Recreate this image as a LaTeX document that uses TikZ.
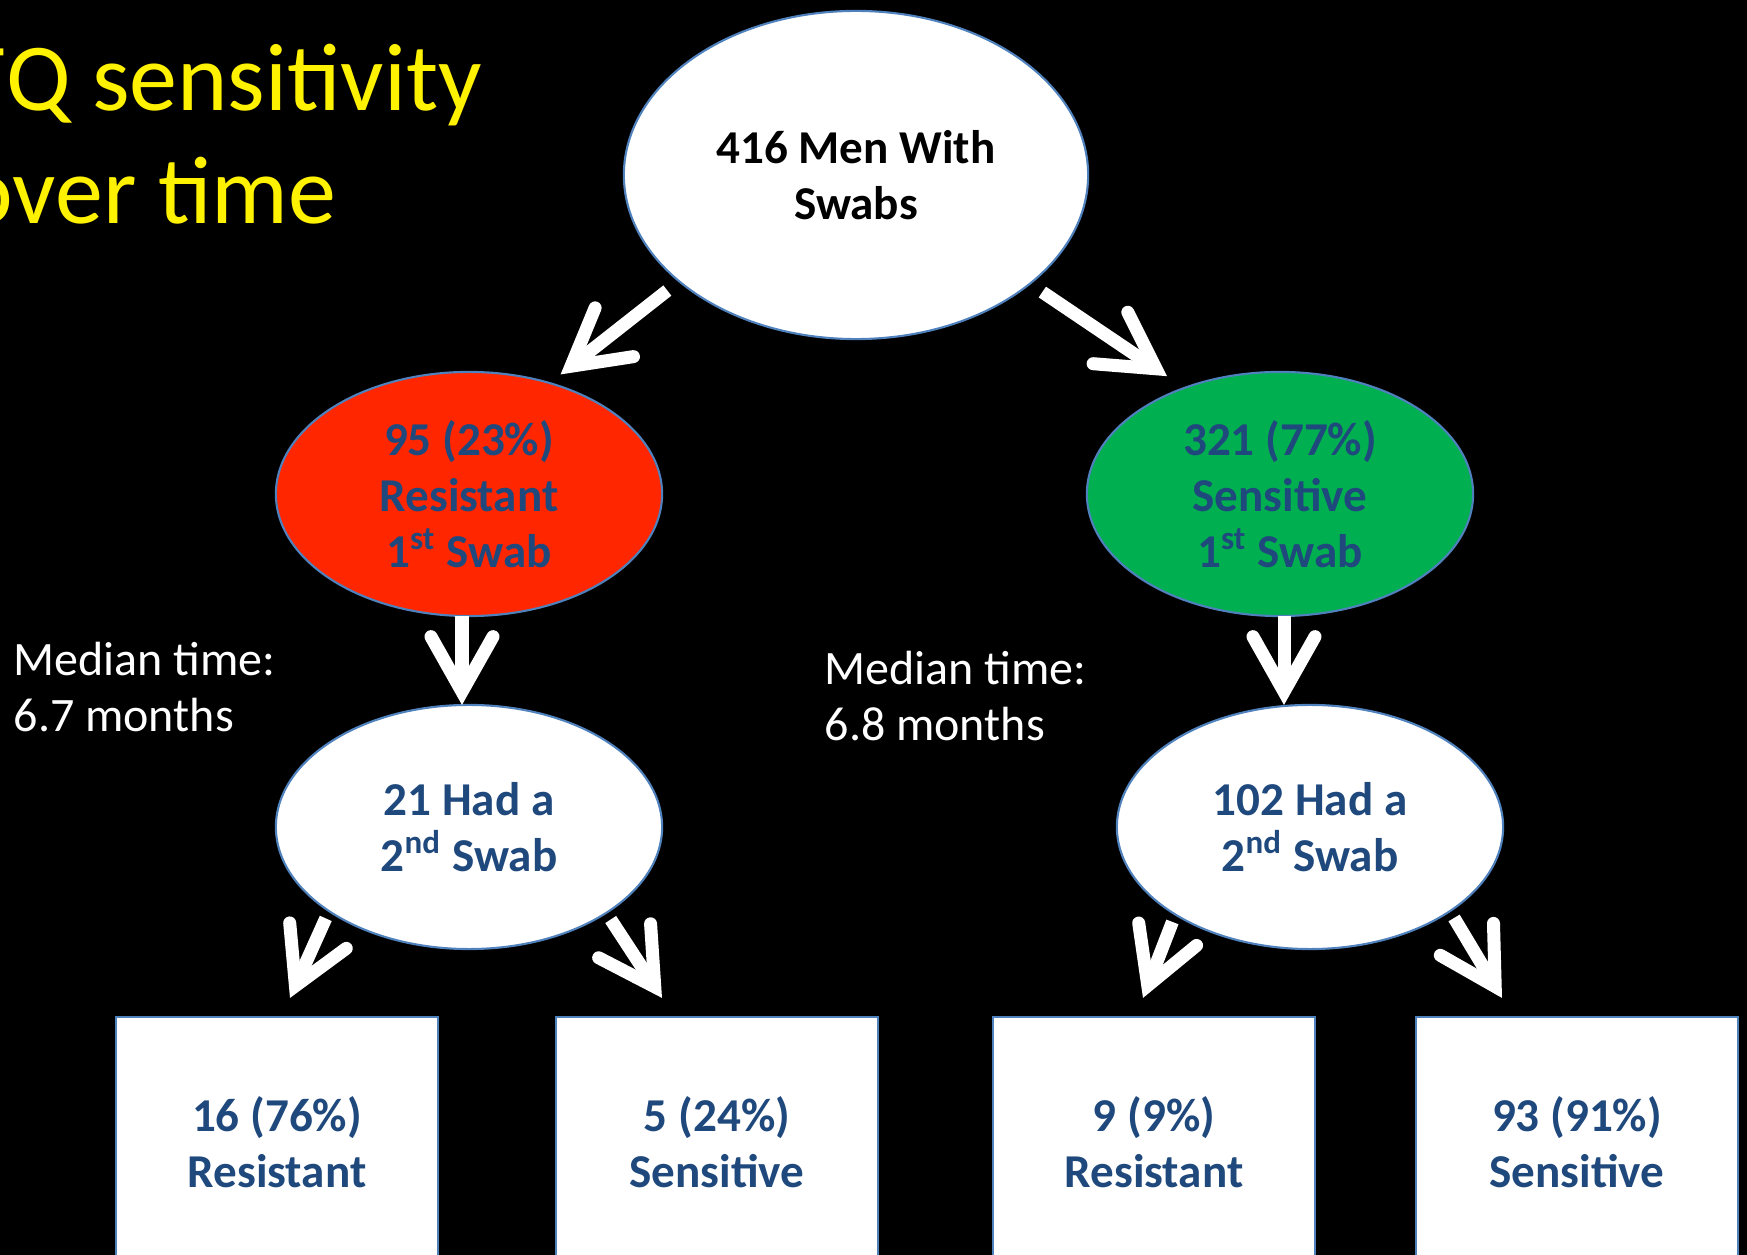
\documentclass[tikz,border=0pt]{standalone}
\usepackage{fontspec}
\setmainfont{Carlito}
\usepackage{tikz}
\usetikzlibrary{shapes.geometric, arrows.meta}

\definecolor{vien}{HTML}{4F81BD}
\definecolor{chu}{HTML}{1F497D}
\definecolor{do}{HTML}{FF2600}
\definecolor{xanh}{HTML}{00B050}

\begin{document}
\begin{tikzpicture}[x=0.01cm, y=-0.01cm,
    oval/.style={ellipse, draw=vien, line width=0.6pt, inner sep=0pt, outer sep=0pt,
        align=center, text=chu, font=\bfseries\fontsize{13.4}{16}\selectfont},
    hop/.style={rectangle, draw=vien, fill=white, line width=0.6pt, outer sep=0pt,
        minimum width=3.22cm, minimum height=2.5cm,
        align=center, text=chu, font=\bfseries\fontsize{13.4}{16}\selectfont},
    muiten/.style={white, line width=0.13cm,
        -{Straight Barb[length=0.55cm, width=0.62cm, line cap=round, line join=miter]}},
    ghichu/.style={text=white, align=left, inner sep=0pt, font=\fontsize{13.65}{15.7}\selectfont},
    tieude/.style={text=yellow, inner sep=0pt, font=\fontsize{27.3}{32}\selectfont}]
    % Nền đen
    \useasboundingbox (0,0) rectangle (1747,1255);
    \fill[black] (0,0) rectangle (1747,1255);
    \clip (0,0) rectangle (1747,1255);

    % Tiêu đề
    \node[tieude, anchor=base west] (tieude1) at (-38,111) {FQ sensitivity};
    \node[tieude, anchor=base west] (tieude2) at (-38,224) {over time};

    % Các nút hình elip
    \node[oval, fill=white, text=black, minimum width=4.64cm, minimum height=3.28cm]
        (top) at (856,175) {416 Men With\\Swabs};
    \node[oval, fill=do, minimum width=3.86cm, minimum height=2.44cm]
        (red) at (469,494) {95 (23\%)\\Resistant\\1\textsuperscript{st} Swab};
    \node[oval, fill=xanh, minimum width=3.86cm, minimum height=2.44cm]
        (green) at (1280,494) {321 (77\%)\\Sensitive\\1\textsuperscript{st} Swab};
    \node[oval, fill=white, minimum width=3.86cm, minimum height=2.44cm]
        (had21) at (469,827) {21 Had a\\2\textsuperscript{nd} Swab};
    \node[oval, fill=white, minimum width=3.86cm, minimum height=2.44cm]
        (had102) at (1310,827) {102 Had a\\2\textsuperscript{nd} Swab};

    % Các hộp kết quả
    \node[hop] (box1) at (277,1142) {16 (76\%)\\Resistant};
    \node[hop] (box2) at (717,1142) {5 (24\%)\\Sensitive};
    \node[hop] (box3) at (1154,1142) {9 (9\%)\\Resistant};
    \node[hop] (box4) at (1577,1142) {93 (91\%)\\Sensitive};

    % Thời gian trung vị
    \node[ghichu, anchor=west] (trungvi1) at (13,687) {Median time:\\6.7 months};
    \node[ghichu, anchor=west] (trungvi2) at (824,696) {Median time:\\6.8 months};

    % Mũi tên
    \draw[muiten, shorten <=0.15cm, shorten >=0.14cm] (top.211) -- (red.54);
    \draw[muiten, shorten <=0.15cm, shorten >=0.21cm] (top.328) -- (green.132);
    \draw[muiten] ([xshift=-0.07cm]red.south) -- ([xshift=-0.07cm]red.south |- had21.north);
    \draw[muiten] ([xshift=0.04cm]green.south) -- ([xshift=0.04cm]green.south |- had102.north);
    \draw[muiten, shorten <=0.08cm] (had21.211) -- ([shift={(13,-19)}]box1.north);
    \draw[muiten, shorten <=0.08cm] (had21.328) -- ([shift={(-55,-19)}]box2.north);
    \draw[muiten, shorten <=0.08cm] (had102.213) -- ([shift={(-11,-19)}]box3.north);
    \draw[muiten, shorten <=0.08cm] (had102.329) -- ([shift={(-75,-19)}]box4.north);
\end{tikzpicture}
\end{document}
